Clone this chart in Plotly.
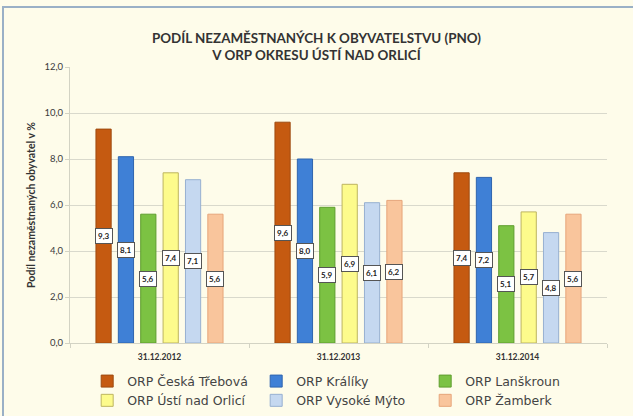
import plotly.graph_objects as go

categories = ["31.12.2012", "31.12.2013", "31.12.2014"]
series_names = ["ORP Česká Třebová", "ORP Králíky", "ORP Lanškroun",
                "ORP Ústí nad Orlicí", "ORP Vysoké Mýto", "ORP Žamberk"]
ceska_trebova = [9.3, 9.6, 7.4]
kraliky = [8.1, 8.0, 7.2]
lanskroun = [5.6, 5.9, 5.1]
usti = [7.4, 6.9, 5.7]
vysoke_myto = [7.1, 6.1, 4.8]
zamberk = [5.6, 6.2, 5.6]
series_values = [ceska_trebova, kraliky, lanskroun, usti, vysoke_myto, zamberk]
y_ticks = [0, 2, 4, 6, 8, 10, 12]

fills = ["#C55A11", "#3F80D6", "#7CC243", "#FDFB8C", "#C5D8F0", "#F9C59C"]
lines = ["#9E4A10", "#2F64AE", "#5F9E2E", "#BDB560", "#97B0D0", "#E6A57A"]

W, H = 633, 416
ML, MR, MT, MB = 70, 26, 67, 73
BARGAP = 0.25
BARGROUPGAP = 0.32
BG = "#FEFCEA"
FONT = "Lato, Liberation Sans, sans-serif"

fig = go.Figure()
for name, vals, fc, lc in zip(series_names, series_values, fills, lines):
    fig.add_trace(go.Bar(
        x=categories, y=vals, name=name,
        marker=dict(color=fc, line=dict(color=lc, width=1)),
        hoverinfo="y+name",
    ))

plot_w = W - ML - MR
plot_h = H - MT - MB
group_w = plot_w / len(categories) * (1 - BARGAP)
slot = group_w / len(series_names)
annotations = []
for i, vals in enumerate(series_values):
    for c, v in zip(categories, vals):
        annotations.append(dict(
            x=c, y=v / 2, xref="x", yref="y",
            text="<b>" + f"{v:.1f}".replace(".", ",") + "</b>",
            showarrow=False,
            xshift=(i - (len(series_names) - 1) / 2) * slot,
            font=dict(family=FONT, size=8, color="#222222"),
            bgcolor="#FFFFFF", bordercolor="#555555", borderwidth=1, borderpad=2,
        ))

# frame of the chart area (pixel positions converted to paper fractions)
shapes = [
    dict(type="rect", xref="paper", yref="paper", layer="above",
         x0=(3 - ML) / plot_w, x1=(W + 10 - ML) / plot_w,
         y0=-(MB + 10) / plot_h, y1=1 + (MT - 7) / plot_h,
         line=dict(color="#9AB0C6", width=2), fillcolor="rgba(0,0,0,0)"),
]

fig.update_layout(
    width=W, height=H,
    margin=dict(l=ML, r=MR, t=MT, b=MB, autoexpand=False),
    paper_bgcolor=BG, plot_bgcolor=BG,
    barmode="group", bargap=BARGAP, bargroupgap=BARGROUPGAP,
    separators=", ",
    title=dict(
        text="<b>PODÍL NEZAMĚSTNANÝCH K OBYVATELSTVU (PNO)<br>V ORP OKRESU ÚSTÍ NAD ORLICÍ</b>",
        x=0.5, xanchor="center", y=0.897, yanchor="middle",
        font=dict(family=FONT, size=13.4, color="#333333"),
    ),
    xaxis=dict(
        showgrid=False, showline=True, linecolor="#D3D3C4",
        ticks="outside", tickson="boundaries", ticklen=4, tickcolor="#D3D3C4",
        ticklabelstandoff=6,
        tickfont=dict(family=FONT, size=8.5, color="#333333"),
        tickprefix="<b>", ticksuffix="</b>",
    ),
    yaxis=dict(
        range=[0, 12], tickvals=y_ticks, tickformat=".1f",
        showgrid=True, gridcolor="#D9D9CC", gridwidth=1,
        zeroline=False, showline=True, linecolor="#D3D3C4",
        ticks="outside", ticklen=4, tickcolor="#D3D3C4",
        tickfont=dict(family=FONT, size=9.5, color="#3A3A3A"),
        tickprefix="<b>", ticksuffix="</b>",
        title=dict(text="<b>Podíl nezaměstnaných obyvatel v %</b>", standoff=6,
                   font=dict(family=FONT, size=10.5, color="#333333")),
    ),
    legend=dict(
        orientation="h", x=0.032, xanchor="left", y=-0.085, yanchor="top",
        entrywidth=124, entrywidthmode="pixels", traceorder="normal",
        font=dict(family="DejaVu Sans, sans-serif", size=12.5, color="#444444"),
        bgcolor="rgba(0,0,0,0)", itemwidth=30, tracegroupgap=0,
    ),
    annotations=annotations,
    shapes=shapes,
    showlegend=True,
)

fig.write_html("out.html", config={"displayModeBar": False},
               post_script="document.body.style.margin='0';document.body.style.background='%s';" % BG)
